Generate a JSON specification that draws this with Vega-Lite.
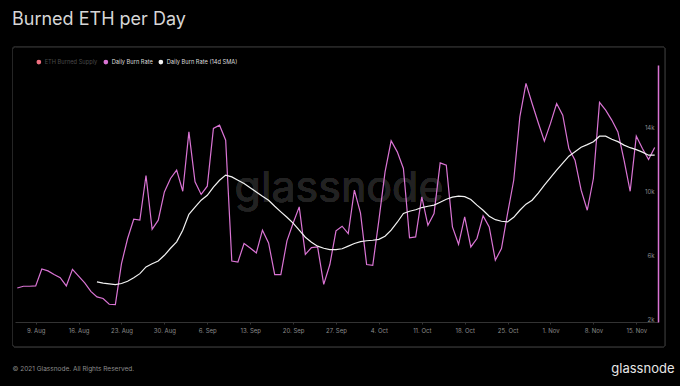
{
  "$schema": "https://vega.github.io/schema/vega-lite/v6.json",
  "width": 643,
  "height": 257,
  "autosize": "none",
  "padding": {"left": 15, "top": 65, "right": 22, "bottom": 64},
  "background": "#000000",
  "config": {"font": "Inter", "view": {"stroke": null}},
  "title": {
    "text": "Burned ETH per Day",
    "anchor": "start",
    "frame": "group",
    "dx": -3,
    "offset": 3,
    "baseline": "alphabetic",
    "fontSize": 18,
    "fontWeight": 400,
    "font": "Inter",
    "color": "#d6d6d6"
  },
  "data": {
    "values": [
      {"date": "2021-08-06", "Daily Burn Rate": 4130, "Daily Burn Rate (14d SMA)": null},
      {"date": "2021-08-07", "Daily Burn Rate": 4240, "Daily Burn Rate (14d SMA)": null},
      {"date": "2021-08-08", "Daily Burn Rate": 4240, "Daily Burn Rate (14d SMA)": null},
      {"date": "2021-08-09", "Daily Burn Rate": 4260, "Daily Burn Rate (14d SMA)": null},
      {"date": "2021-08-10", "Daily Burn Rate": 5320, "Daily Burn Rate (14d SMA)": null},
      {"date": "2021-08-11", "Daily Burn Rate": 5200, "Daily Burn Rate (14d SMA)": null},
      {"date": "2021-08-12", "Daily Burn Rate": 4970, "Daily Burn Rate (14d SMA)": null},
      {"date": "2021-08-13", "Daily Burn Rate": 4780, "Daily Burn Rate (14d SMA)": null},
      {"date": "2021-08-14", "Daily Burn Rate": 4260, "Daily Burn Rate (14d SMA)": null},
      {"date": "2021-08-15", "Daily Burn Rate": 5300, "Daily Burn Rate (14d SMA)": null},
      {"date": "2021-08-16", "Daily Burn Rate": 4870, "Daily Burn Rate (14d SMA)": null},
      {"date": "2021-08-17", "Daily Burn Rate": 4450, "Daily Burn Rate (14d SMA)": null},
      {"date": "2021-08-18", "Daily Burn Rate": 3920, "Daily Burn Rate (14d SMA)": null},
      {"date": "2021-08-19", "Daily Burn Rate": 3570, "Daily Burn Rate (14d SMA)": 4510},
      {"date": "2021-08-20", "Daily Burn Rate": 3470, "Daily Burn Rate (14d SMA)": 4430},
      {"date": "2021-08-21", "Daily Burn Rate": 3110, "Daily Burn Rate (14d SMA)": 4390},
      {"date": "2021-08-22", "Daily Burn Rate": 3090, "Daily Burn Rate (14d SMA)": 4340},
      {"date": "2021-08-23", "Daily Burn Rate": 5660, "Daily Burn Rate (14d SMA)": 4410},
      {"date": "2021-08-24", "Daily Burn Rate": 7230, "Daily Burn Rate (14d SMA)": 4550},
      {"date": "2021-08-25", "Daily Burn Rate": 8440, "Daily Burn Rate (14d SMA)": 4770},
      {"date": "2021-08-26", "Daily Burn Rate": 8380, "Daily Burn Rate (14d SMA)": 5030},
      {"date": "2021-08-27", "Daily Burn Rate": 11180, "Daily Burn Rate (14d SMA)": 5450},
      {"date": "2021-08-28", "Daily Burn Rate": 7810, "Daily Burn Rate (14d SMA)": 5650},
      {"date": "2021-08-29", "Daily Burn Rate": 8380, "Daily Burn Rate (14d SMA)": 5820},
      {"date": "2021-08-30", "Daily Burn Rate": 10150, "Daily Burn Rate (14d SMA)": 6180},
      {"date": "2021-08-31", "Daily Burn Rate": 10990, "Daily Burn Rate (14d SMA)": 6620},
      {"date": "2021-09-01", "Daily Burn Rate": 11510, "Daily Burn Rate (14d SMA)": 7020},
      {"date": "2021-09-02", "Daily Burn Rate": 10190, "Daily Burn Rate (14d SMA)": 7750},
      {"date": "2021-09-03", "Daily Burn Rate": 13910, "Daily Burn Rate (14d SMA)": 8750},
      {"date": "2021-09-04", "Daily Burn Rate": 10780, "Daily Burn Rate (14d SMA)": 9190},
      {"date": "2021-09-05", "Daily Burn Rate": 9990, "Daily Burn Rate (14d SMA)": 9630},
      {"date": "2021-09-06", "Daily Burn Rate": 10510, "Daily Burn Rate (14d SMA)": 9940},
      {"date": "2021-09-07", "Daily Burn Rate": 14130, "Daily Burn Rate (14d SMA)": 10450},
      {"date": "2021-09-08", "Daily Burn Rate": 14330, "Daily Burn Rate (14d SMA)": 10880},
      {"date": "2021-09-09", "Daily Burn Rate": 13390, "Daily Burn Rate (14d SMA)": 11200},
      {"date": "2021-09-10", "Daily Burn Rate": 5820, "Daily Burn Rate (14d SMA)": 11090},
      {"date": "2021-09-11", "Daily Burn Rate": 5760, "Daily Burn Rate (14d SMA)": 10880},
      {"date": "2021-09-12", "Daily Burn Rate": 6920, "Daily Burn Rate (14d SMA)": 10680},
      {"date": "2021-09-13", "Daily Burn Rate": 6640, "Daily Burn Rate (14d SMA)": 10410},
      {"date": "2021-09-14", "Daily Burn Rate": 6330, "Daily Burn Rate (14d SMA)": 10150},
      {"date": "2021-09-15", "Daily Burn Rate": 7750, "Daily Burn Rate (14d SMA)": 9880},
      {"date": "2021-09-16", "Daily Burn Rate": 6950, "Daily Burn Rate (14d SMA)": 9630},
      {"date": "2021-09-17", "Daily Burn Rate": 4970, "Daily Burn Rate (14d SMA)": 9250},
      {"date": "2021-09-18", "Daily Burn Rate": 4970, "Daily Burn Rate (14d SMA)": 8900},
      {"date": "2021-09-19", "Daily Burn Rate": 7080, "Daily Burn Rate (14d SMA)": 8560},
      {"date": "2021-09-20", "Daily Burn Rate": 8190, "Daily Burn Rate (14d SMA)": 8190},
      {"date": "2021-09-21", "Daily Burn Rate": 9210, "Daily Burn Rate (14d SMA)": 7750},
      {"date": "2021-09-22", "Daily Burn Rate": 6240, "Daily Burn Rate (14d SMA)": 7310},
      {"date": "2021-09-23", "Daily Burn Rate": 6660, "Daily Burn Rate (14d SMA)": 7000},
      {"date": "2021-09-24", "Daily Burn Rate": 6700, "Daily Burn Rate (14d SMA)": 6750},
      {"date": "2021-09-25", "Daily Burn Rate": 4360, "Daily Burn Rate (14d SMA)": 6620},
      {"date": "2021-09-26", "Daily Burn Rate": 5600, "Daily Burn Rate (14d SMA)": 6540},
      {"date": "2021-09-27", "Daily Burn Rate": 7710, "Daily Burn Rate (14d SMA)": 6540},
      {"date": "2021-09-28", "Daily Burn Rate": 8000, "Daily Burn Rate (14d SMA)": 6590},
      {"date": "2021-09-29", "Daily Burn Rate": 7540, "Daily Burn Rate (14d SMA)": 6750},
      {"date": "2021-09-30", "Daily Burn Rate": 10260, "Daily Burn Rate (14d SMA)": 6920},
      {"date": "2021-10-01", "Daily Burn Rate": 8820, "Daily Burn Rate (14d SMA)": 7030},
      {"date": "2021-10-02", "Daily Burn Rate": 5600, "Daily Burn Rate (14d SMA)": 7090},
      {"date": "2021-10-03", "Daily Burn Rate": 5550, "Daily Burn Rate (14d SMA)": 7120},
      {"date": "2021-10-04", "Daily Burn Rate": 8380, "Daily Burn Rate (14d SMA)": 7180},
      {"date": "2021-10-05", "Daily Burn Rate": 11390, "Daily Burn Rate (14d SMA)": 7370},
      {"date": "2021-10-06", "Daily Burn Rate": 13350, "Daily Burn Rate (14d SMA)": 7750},
      {"date": "2021-10-07", "Daily Burn Rate": 12660, "Daily Burn Rate (14d SMA)": 8250},
      {"date": "2021-10-08", "Daily Burn Rate": 11620, "Daily Burn Rate (14d SMA)": 8800},
      {"date": "2021-10-09", "Daily Burn Rate": 7270, "Daily Burn Rate (14d SMA)": 8940},
      {"date": "2021-10-10", "Daily Burn Rate": 7330, "Daily Burn Rate (14d SMA)": 9030},
      {"date": "2021-10-11", "Daily Burn Rate": 9840, "Daily Burn Rate (14d SMA)": 9170},
      {"date": "2021-10-12", "Daily Burn Rate": 8060, "Daily Burn Rate (14d SMA)": 9250},
      {"date": "2021-10-13", "Daily Burn Rate": 8800, "Daily Burn Rate (14d SMA)": 9320},
      {"date": "2021-10-14", "Daily Burn Rate": 11970, "Daily Burn Rate (14d SMA)": 9500},
      {"date": "2021-10-15", "Daily Burn Rate": 11820, "Daily Burn Rate (14d SMA)": 9690},
      {"date": "2021-10-16", "Daily Burn Rate": 7960, "Daily Burn Rate (14d SMA)": 9820},
      {"date": "2021-10-17", "Daily Burn Rate": 6870, "Daily Burn Rate (14d SMA)": 9880},
      {"date": "2021-10-18", "Daily Burn Rate": 8580, "Daily Burn Rate (14d SMA)": 9850},
      {"date": "2021-10-19", "Daily Burn Rate": 6700, "Daily Burn Rate (14d SMA)": 9670},
      {"date": "2021-10-20", "Daily Burn Rate": 7230, "Daily Burn Rate (14d SMA)": 9320},
      {"date": "2021-10-21", "Daily Burn Rate": 8650, "Daily Burn Rate (14d SMA)": 9000},
      {"date": "2021-10-22", "Daily Burn Rate": 7960, "Daily Burn Rate (14d SMA)": 8630},
      {"date": "2021-10-23", "Daily Burn Rate": 5870, "Daily Burn Rate (14d SMA)": 8410},
      {"date": "2021-10-24", "Daily Burn Rate": 6600, "Daily Burn Rate (14d SMA)": 8310},
      {"date": "2021-10-25", "Daily Burn Rate": 8800, "Daily Burn Rate (14d SMA)": 8270},
      {"date": "2021-10-26", "Daily Burn Rate": 10880, "Daily Burn Rate (14d SMA)": 8560},
      {"date": "2021-10-27", "Daily Burn Rate": 14850, "Daily Burn Rate (14d SMA)": 9000},
      {"date": "2021-10-28", "Daily Burn Rate": 16950, "Daily Burn Rate (14d SMA)": 9380},
      {"date": "2021-10-29", "Daily Burn Rate": 15690, "Daily Burn Rate (14d SMA)": 9630},
      {"date": "2021-10-30", "Daily Burn Rate": 14480, "Daily Burn Rate (14d SMA)": 10070},
      {"date": "2021-10-31", "Daily Burn Rate": 13330, "Daily Burn Rate (14d SMA)": 10570},
      {"date": "2021-11-01", "Daily Burn Rate": 14440, "Daily Burn Rate (14d SMA)": 11040},
      {"date": "2021-11-02", "Daily Burn Rate": 15690, "Daily Burn Rate (14d SMA)": 11510},
      {"date": "2021-11-03", "Daily Burn Rate": 14960, "Daily Burn Rate (14d SMA)": 11950},
      {"date": "2021-11-04", "Daily Burn Rate": 12870, "Daily Burn Rate (14d SMA)": 12390},
      {"date": "2021-11-05", "Daily Burn Rate": 12140, "Daily Burn Rate (14d SMA)": 12670},
      {"date": "2021-11-06", "Daily Burn Rate": 10260, "Daily Burn Rate (14d SMA)": 12950},
      {"date": "2021-11-07", "Daily Burn Rate": 9000, "Daily Burn Rate (14d SMA)": 13110},
      {"date": "2021-11-08", "Daily Burn Rate": 10990, "Daily Burn Rate (14d SMA)": 13290},
      {"date": "2021-11-09", "Daily Burn Rate": 15760, "Daily Burn Rate (14d SMA)": 13640},
      {"date": "2021-11-10", "Daily Burn Rate": 15270, "Daily Burn Rate (14d SMA)": 13640},
      {"date": "2021-11-11", "Daily Burn Rate": 14650, "Daily Burn Rate (14d SMA)": 13450},
      {"date": "2021-11-12", "Daily Burn Rate": 13910, "Daily Burn Rate (14d SMA)": 13300},
      {"date": "2021-11-13", "Daily Burn Rate": 12140, "Daily Burn Rate (14d SMA)": 13080},
      {"date": "2021-11-14", "Daily Burn Rate": 10190, "Daily Burn Rate (14d SMA)": 12920},
      {"date": "2021-11-15", "Daily Burn Rate": 13640, "Daily Burn Rate (14d SMA)": 12800},
      {"date": "2021-11-16", "Daily Burn Rate": 12870, "Daily Burn Rate (14d SMA)": 12640},
      {"date": "2021-11-17", "Daily Burn Rate": 12180, "Daily Burn Rate (14d SMA)": 12450},
      {"date": "2021-11-18", "Daily Burn Rate": 12930, "Daily Burn Rate (14d SMA)": 12450}
    ]
  },
  "layer": [
    {
      "mark": {
        "type": "rect",
        "fill": null,
        "stroke": "#262626",
        "strokeWidth": 1,
        "cornerRadius": 3,
        "clip": false
      },
      "encoding": {
        "x": {
          "datum": {"year": 2021, "month": 8, "date": 5, "hours": 5, "minutes": 10, "utc": true},
          "type": "temporal",
          "axis": null
        },
        "x2": {"datum": {"year": 2021, "month": 11, "date": 19, "hours": 17, "minutes": 30, "utc": true}},
        "y": {"datum": 19250, "type": "quantitative", "axis": null},
        "y2": {"datum": 420}
      }
    },
    {
      "mark": {
        "type": "text",
        "fontSize": 43,
        "font": "Inter",
        "fontWeight": 400,
        "color": "#222222",
        "align": "center",
        "baseline": "alphabetic"
      },
      "encoding": {
        "text": {"value": "glassnode"},
        "x": {
          "datum": {"year": 2021, "month": 9, "date": 27, "hours": 12, "utc": true},
          "type": "temporal",
          "axis": null
        },
        "y": {
          "datum": 9500,
          "type": "quantitative",
          "axis": {
            "orient": "left",
            "title": "glassnode",
            "titleAngle": 0,
            "titleAlign": "right",
            "titleBaseline": "alphabetic",
            "titleX": 659,
            "titleY": 307,
            "titleFontSize": 13,
            "titleFontWeight": 400,
            "titleFont": "Inter",
            "titleColor": "#e6e6e6",
            "domain": false,
            "labels": false,
            "ticks": false,
            "grid": false
          }
        }
      }
    },
    {
      "transform": [
        {"fold": ["Daily Burn Rate", "Daily Burn Rate (14d SMA)"], "as": ["series", "value"]},
        {"filter": "datum.value != null"}
      ],
      "mark": {"type": "line", "strokeWidth": 1.2, "interpolate": "linear"},
      "encoding": {
        "x": {
          "field": "date",
          "type": "temporal",
          "scale": {
            "type": "utc",
            "domain": [
              {"year": 2021, "month": 8, "date": 5, "hours": 15, "utc": true},
              {"year": 2021, "month": 11, "date": 18, "hours": 13, "utc": true}
            ]
          },
          "axis": {
            "values": [
              {"year": 2021, "month": 8, "date": 9, "utc": true},
              {"year": 2021, "month": 8, "date": 16, "utc": true},
              {"year": 2021, "month": 8, "date": 23, "utc": true},
              {"year": 2021, "month": 8, "date": 30, "utc": true},
              {"year": 2021, "month": 9, "date": 6, "utc": true},
              {"year": 2021, "month": 9, "date": 13, "utc": true},
              {"year": 2021, "month": 9, "date": 20, "utc": true},
              {"year": 2021, "month": 9, "date": 27, "utc": true},
              {"year": 2021, "month": 10, "date": 4, "utc": true},
              {"year": 2021, "month": 10, "date": 11, "utc": true},
              {"year": 2021, "month": 10, "date": 18, "utc": true},
              {"year": 2021, "month": 10, "date": 25, "utc": true},
              {"year": 2021, "month": 11, "date": 1, "utc": true},
              {"year": 2021, "month": 11, "date": 8, "utc": true},
              {"year": 2021, "month": 11, "date": 15, "utc": true}
            ],
            "format": "%-d. %b",
            "grid": false,
            "domainColor": "#333333",
            "tickColor": "#333333",
            "tickSize": 2,
            "labelColor": "#8c8c8c",
            "labelFontSize": 6,
            "labelFont": "Inter",
            "labelPadding": 3,
            "title": "© 2021 Glassnode. All Rights Reserved.",
            "titleAnchor": "start",
            "titleAlign": "left",
            "titleBaseline": "alphabetic",
            "titleX": -3,
            "titleY": 48,
            "titleFontSize": 6.5,
            "titleFontWeight": 400,
            "titleFont": "Inter",
            "titleColor": "#8c8c8c"
          }
        },
        "y": {
          "field": "value",
          "type": "quantitative",
          "scale": {"domain": [2000, 18100], "nice": false, "zero": false},
          "axis": {
            "orient": "right",
            "values": [2000, 4000, 6000, 8000, 10000, 12000, 14000, 16000, 18000],
            "labelExpr": "(datum.value % 4000 == 2000 && datum.value < 16000) ? (datum.value / 1000) + 'k' : ''",
            "labelAlign": "right",
            "labelBaseline": "alphabetic",
            "labelPadding": -4,
            "labelOffset": -1,
            "labelFontSize": 6,
            "labelFont": "Inter",
            "labelColor": "#8c8c8c",
            "ticks": false,
            "domainColor": "#da74d4",
            "domainWidth": 1.5,
            "gridColor": "#1c1c1c",
            "gridWidth": 1,
            "title": null
          }
        },
        "color": {
          "field": "series",
          "type": "nominal",
          "scale": {
            "domain": ["ETH Burned Supply", "Daily Burn Rate", "Daily Burn Rate (14d SMA)"],
            "range": ["#f07080", "#da74d4", "#f2f2f2"]
          },
          "legend": {
            "title": null,
            "orient": "none",
            "legendX": 21,
            "legendY": -6,
            "direction": "horizontal",
            "symbolType": "circle",
            "symbolSize": 22,
            "labelFontSize": 5.7,
            "labelFont": "Inter",
            "labelColor": "#dcdcdc",
            "labelOffset": 3,
            "columnPadding": 5,
            "encode": {
              "symbols": {
                "update": {
                  "fill": {"scale": "color", "field": "value"},
                  "strokeWidth": {"value": 0}
                }
              },
              "labels": {
                "update": {
                  "fill": {"signal": "datum.value === 'ETH Burned Supply' ? '#4a4a4a' : '#dcdcdc'"}
                }
              }
            }
          }
        }
      }
    }
  ],
  "resolve": {"axis": {"x": "independent", "y": "independent"}}
}
